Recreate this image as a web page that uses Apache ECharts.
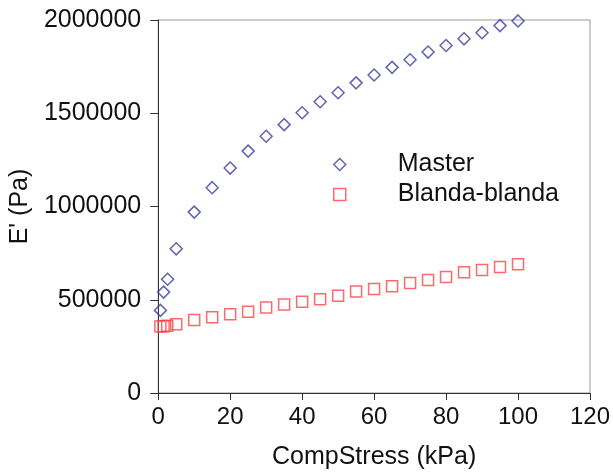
<!DOCTYPE html>
<html>
<head>
<meta charset="utf-8">
<script src="https://cdn.jsdelivr.net/npm/echarts@6/dist/echarts.min.js"></script>
<style>
  html, body { margin: 0; padding: 0; background: #fff; }
  #chart { width: 613px; height: 475px; }
</style>
</head>
<body>
<div id="chart"></div>
<script>
  // values
  var masterX = [0.6, 1.5, 2.6, 5, 10, 15, 20, 25, 30, 35, 40, 45, 50, 55, 60, 65, 70, 75, 80, 85, 90, 95, 100];
  var masterY = [443000, 541000, 610000, 773000, 970000, 1101000, 1206000, 1297000, 1377000, 1439000, 1503000,
    1562000, 1610000, 1663000, 1705000, 1746000, 1787000, 1828000, 1863000, 1899000, 1932000, 1970000, 1995000];
  var blandaX = [0.6, 1.5, 2.5, 5, 10, 15, 20, 25, 30, 35, 40, 45, 50, 55, 60, 65, 70, 75, 80, 85, 90, 95, 100];
  var blandaY = [356000, 358000, 361000, 369000, 391000, 406000, 422000, 436000, 459000, 475000, 489000,
    503000, 521000, 544000, 558000, 573000, 590000, 606000, 622000, 647000, 659000, 675000, 690000];

  function pairs(xs, ys) {
    var out = [];
    for (var i = 0; i < xs.length; i++) out.push([xs[i], ys[i]]);
    return out;
  }

  var chart = echarts.init(document.getElementById('chart'));
  var font = 'Liberation Sans, Arial, sans-serif';
  var blue = '#3c3ca0', red = '#ff4444';

  var option = {
    backgroundColor: '#ffffff',
    animation: false,
    textStyle: { fontFamily: font },
    grid: {
      left: 158, right: 23, top: 20, bottom: 80,
      show: true, borderColor: '#999999', borderWidth: 1, backgroundColor: 'transparent'
    },
    legend: {
      orient: 'vertical',
      left: 328, top: 147,
      itemWidth: 12, itemHeight: 12, itemGap: 5,
      textStyle: { fontSize: 25, color: '#111', fontFamily: font, padding: [0, 0, 0, 47] },
      data: [
        { name: 'Master', icon: 'diamond', itemStyle: { color: 'transparent', borderColor: blue, borderWidth: 1.5 } },
        { name: 'Blanda-blanda', icon: 'rect', itemStyle: { color: 'transparent', borderColor: red, borderWidth: 1.5 } }
      ]
    },
    xAxis: {
      type: 'value', min: 0, max: 120, interval: 20,
      name: 'CompStress (kPa)', nameLocation: 'middle', nameGap: 52,
      nameTextStyle: { fontSize: 25, color: '#111', fontFamily: font },
      axisLine: { show: true, lineStyle: { color: '#333', width: 1 } },
      axisTick: { show: true, length: 7, lineStyle: { color: '#333' } },
      axisLabel: { fontSize: 24, color: '#111', margin: 12, fontFamily: font },
      splitLine: { show: false }
    },
    yAxis: {
      type: 'value', min: 0, max: 2000000, interval: 500000,
      name: "E' (Pa)", nameLocation: 'middle', nameGap: 124, nameRotate: 90,
      nameTextStyle: { fontSize: 25, color: '#111', fontFamily: font },
      axisLine: { show: true, lineStyle: { color: '#333', width: 1 } },
      axisTick: { show: true, length: 8, lineStyle: { color: '#333' } },
      axisLabel: { fontSize: 25, color: '#111', margin: 17, fontFamily: font,
        formatter: function (v) { return String(v); } },
      splitLine: { show: false }
    },
    series: [
      {
        name: 'Master', type: 'scatter', symbol: 'diamond', symbolSize: [12, 12],
        itemStyle: { color: 'transparent', borderColor: blue, borderWidth: 1.5 },
        data: pairs(masterX, masterY)
      },
      {
        name: 'Blanda-blanda', type: 'scatter', symbol: 'rect', symbolSize: 11,
        itemStyle: { color: 'transparent', borderColor: red, borderWidth: 1.5 },
        data: pairs(blandaX, blandaY)
      }
    ]
  };
  chart.setOption(option);
</script>
</body>
</html>
